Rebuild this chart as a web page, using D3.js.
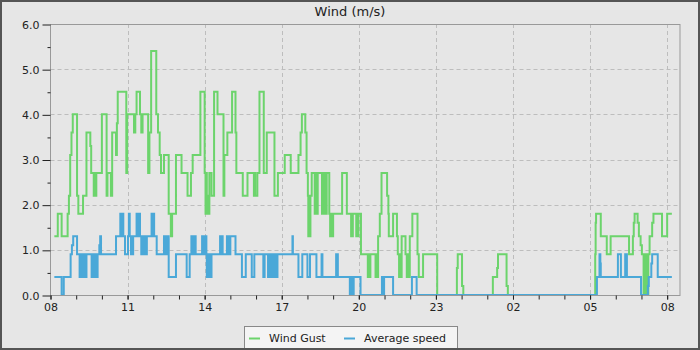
<!DOCTYPE html>
<html>
<head>
<meta charset="utf-8">
<script src="https://cdn.jsdelivr.net/npm/d3@7"></script>
<style>
  body { margin: 0; background: #e6e6e6; }
  svg { display: block; font-family: "DejaVu Sans", sans-serif; }
</style>
</head>
<body>
<div id="chart"></div>
<script>
// tick labels
let xTickLabels = ["08", "11", "14", "17", "20", "23", "02", "05", "08"];
let yTickLabels = ["0.0", "1.0", "2.0", "3.0", "4.0", "5.0", "6.0"];
let seriesNames = ["Wind Gust", "Average speed"];

// Wind Gust (m/s), value holds from each time until the next
let gustTimes = [
  "08:09", "08:17", "08:26", "08:40", "08:43", "08:46", "08:49", "08:52", "09:02", "09:05",
  "09:16", "09:24", "09:33", "09:35", "09:41", "09:43", "09:45", "09:47", "10:00", "10:11",
  "10:13", "10:21", "10:24", "10:33", "10:35", "10:37", "10:57", "10:59", "11:15", "11:18",
  "11:21", "11:29", "11:32", "11:35", "11:48", "11:51", "11:55", "12:07", "12:11", "12:15",
  "12:18", "12:25", "12:36", "12:41", "12:44", "12:53", "13:06", "13:20", "13:28", "13:32",
  "13:50", "14:00", "14:02", "14:04", "14:05", "14:07", "14:09", "14:11", "14:16", "14:22",
  "14:30", "14:44", "14:46", "14:53", "15:04", "15:12", "15:14", "15:29", "15:40", "15:55",
  "15:57", "15:58", "16:03", "16:08", "16:18", "16:25", "16:43", "16:51", "17:07", "17:21",
  "17:39", "17:44", "17:47", "17:55", "17:58", "18:01", "18:02", "18:04", "18:05", "18:07",
  "18:10", "18:17", "18:19", "18:21", "18:24", "18:34", "18:36", "18:38", "18:41", "18:43",
  "18:45", "18:51", "18:53", "18:55", "18:57", "19:00", "19:21", "19:32", "19:42", "19:46",
  "19:54", "19:56", "19:58", "19:59", "20:05", "20:21", "20:23", "20:25", "20:27", "20:39",
  "20:41", "20:43", "20:45", "20:49", "20:53", "21:06", "21:09", "21:10", "21:20", "21:29",
  "21:31", "21:34", "21:36", "21:38", "21:40", "21:49", "21:52", "21:54", "21:56", "21:59",
  "22:05", "22:17", "22:20", "22:30", "23:03", "23:49", "23:51", "00:01", "00:04", "01:13",
  "01:23", "01:25", "01:45", "01:48", "05:12", "05:13", "05:14", "05:25", "05:39", "05:48",
  "06:31", "06:40", "06:42", "06:44", "06:51", "06:54", "06:58", "07:01", "07:05", "07:07",
  "07:08", "07:10", "07:12", "07:16", "07:19", "07:25", "07:28", "07:48", "08:00", "08:11"
];
let gustValues = [
  1.3, 1.8, 1.3, 1.8, 2.2, 3.1, 3.6, 4.0, 2.2, 1.8,
  2.2, 3.6, 3.3, 2.7, 2.2, 2.7, 2.2, 2.7, 4.0, 2.2,
  2.7, 2.2, 3.6, 3.1, 3.8, 4.5, 2.7, 4.0, 3.6, 4.0,
  4.5, 4.0, 3.6, 4.0, 2.7, 3.6, 5.4, 4.0, 3.6, 3.1,
  2.7, 3.1, 1.8, 1.3, 1.8, 3.1, 2.7, 2.2, 2.7, 3.1,
  4.5, 2.7, 1.8, 2.7, 1.8, 2.2, 1.8, 2.7, 2.2, 4.5,
  4.0, 2.2, 3.1, 3.6, 4.5, 3.6, 2.7, 2.2, 2.7, 2.2,
  2.7, 2.2, 2.7, 4.5, 2.7, 3.6, 2.2, 2.7, 3.1, 2.7,
  3.1, 3.6, 4.0, 3.6, 2.7, 2.2, 1.3, 2.2, 1.3, 2.2,
  2.7, 1.8, 2.7, 1.8, 2.7, 1.8, 2.7, 1.8, 2.7, 1.8,
  2.7, 1.8, 1.3, 1.8, 1.3, 1.8, 2.7, 1.8, 1.3, 1.8,
  1.3, 1.8, 1.3, 1.8, 0.9, 0.4, 0.9, 0.4, 0.9, 0.4,
  0.9, 0.4, 1.3, 1.8, 2.7, 2.2, 1.8, 1.3, 1.8, 1.3,
  0.9, 0.4, 0.9, 0.4, 1.3, 0.9, 0.4, 0.9, 0.4, 1.3,
  1.8, 0.9, 0.4, 0.9, 0.0, 0.6, 0.9, 0.2, 0.0, 0.4,
  0.6, 0.9, 0.2, 0.0, 0.9, 1.6, 1.8, 1.3, 0.9, 1.3,
  0.9, 1.3, 1.6, 1.8, 1.6, 1.3, 1.1, 0.9, 0.0, 0.9,
  0.0, 0.9, 0.0, 0.9, 1.3, 1.6, 1.8, 1.3, 1.8, 1.8
];

// Average speed (m/s)
let speedTimes = [
  "08:09", "08:26", "08:31", "08:47", "08:50", "08:53", "09:02", "09:08", "09:10", "09:11",
  "09:13", "09:15", "09:17", "09:19", "09:21", "09:22", "09:24", "09:36", "09:38", "09:40",
  "09:42", "09:43", "09:45", "09:47", "09:50", "09:54", "09:56", "09:58", "10:33", "10:43",
  "10:44", "10:46", "10:47", "10:49", "10:50", "10:54", "11:01", "11:03", "11:05", "11:08",
  "11:10", "11:11", "11:13", "11:21", "11:23", "11:25", "11:29", "11:32", "11:34", "11:35",
  "11:37", "11:39", "11:41", "11:44", "11:45", "11:56", "11:58", "12:00", "12:02", "12:08",
  "12:25", "12:27", "12:29", "12:31", "12:33", "12:36", "12:53", "13:18", "13:25", "13:29",
  "13:31", "13:32", "13:35", "13:37", "13:39", "13:54", "13:56", "13:57", "14:00", "14:01",
  "14:04", "14:05", "14:07", "14:08", "14:10", "14:11", "14:13", "14:14", "14:16", "14:36",
  "14:38", "14:40", "14:42", "14:52", "14:54", "14:56", "14:58", "15:00", "15:12", "15:27",
  "15:36", "15:50", "15:56", "16:17", "16:20", "16:28", "16:30", "16:31", "16:33", "16:35",
  "16:37", "16:40", "16:42", "16:43", "16:46", "16:47", "16:50", "17:25", "17:26", "17:39",
  "17:48", "18:00", "18:06", "18:21", "18:33", "18:35", "19:07", "19:11", "19:39", "19:41",
  "19:42", "19:44", "19:46", "19:48", "20:04", "20:54", "20:56", "20:57", "20:58", "20:59",
  "21:20", "22:04", "22:15", "05:16", "05:22", "05:24", "05:25", "06:05", "06:12", "06:22",
  "06:26", "06:59", "07:15", "07:17", "07:23", "07:25", "07:38", "08:11"
];
let speedValues = [
  0.4, 0.0, 0.4, 0.9, 1.1, 1.3, 0.9, 0.4, 0.9, 0.4,
  0.9, 0.4, 0.9, 0.4, 0.9, 0.4, 0.9, 0.4, 0.9, 0.4,
  0.9, 0.4, 0.9, 0.4, 0.9, 1.1, 1.3, 0.9, 1.3, 1.8,
  1.3, 1.8, 1.3, 1.8, 1.3, 0.9, 1.3, 1.8, 1.3, 0.9,
  1.3, 0.9, 1.3, 1.8, 1.3, 1.8, 1.3, 0.9, 1.3, 0.9,
  1.3, 0.9, 1.3, 0.9, 1.3, 1.8, 1.3, 1.8, 1.3, 0.9,
  1.3, 0.9, 1.3, 0.9, 1.3, 0.4, 0.9, 0.4, 0.9, 1.3,
  0.9, 1.3, 0.9, 1.3, 0.9, 1.3, 0.9, 1.3, 0.9, 1.3,
  0.9, 0.4, 0.9, 0.4, 0.9, 0.4, 0.9, 0.4, 0.9, 1.3,
  0.9, 1.3, 0.9, 1.3, 0.9, 1.3, 0.9, 1.3, 0.9, 0.4,
  0.9, 0.4, 0.9, 0.4, 0.9, 0.4, 0.9, 0.4, 0.9, 0.4,
  0.9, 0.4, 0.9, 0.4, 0.9, 0.4, 0.9, 1.3, 0.9, 0.4,
  0.9, 0.4, 0.9, 0.4, 0.9, 0.4, 0.9, 0.4, 0.0, 0.4,
  0.0, 0.4, 0.0, 0.4, 0.0, 0.4, 0.0, 0.4, 0.0, 0.4,
  0.0, 0.4, 0.0, 0.4, 0.9, 0.7, 0.4, 0.9, 0.4, 0.9,
  0.4, 0.0, 0.2, 0.4, 0.7, 0.9, 0.4, 0.4
];

let width = 700;
let height = 350;
let margin = { top: 24, right: 20, bottom: 55, left: 50.5 };

let start = new Date(2024, 0, 1, 8, 0);
let end = new Date(2024, 0, 2, 8, 30);

// turn "HH:MM" strings into dates, rolling to the next day after midnight
function toDates(times) {
  let day = 1, prevHour = -1;
  return times.map(function (t) {
    let h = +t.slice(0, 2), m = +t.slice(3, 5);
    if (h < prevHour) day++;
    prevHour = h;
    return new Date(2024, 0, day, h, m);
  });
}

function makeSeries(times, values) {
  let dates = toDates(times);
  return dates.map(function (d, i) { return { date: d, value: values[i] }; });
}

let gust = makeSeries(gustTimes, gustValues);
let speed = makeSeries(speedTimes, speedValues);

let xScale = d3.scaleTime()
  .domain([start, end])
  .range([margin.left, width - margin.right]);

let yScale = d3.scaleLinear()
  .domain([0, 6])
  .range([height - margin.bottom - 0, margin.top]);

let majorX = d3.range(0, 25, 3).map(function (h) { return d3.timeHour.offset(start, h); });
let minorX = d3.range(0, 25).map(function (h) { return d3.timeHour.offset(start, h); });
let majorY = d3.range(0, 7);
let minorY = d3.range(0.5, 6, 1);

let svg = d3.select('#chart').append('svg')
  .attr('width', width)
  .attr('height', height);

svg.append('rect')
  .attr('width', width).attr('height', height)
  .attr('fill', '#e6e6e6');

let plotW = width - margin.right - margin.left;
let plotB = yScale(0);

// grid
let grid = svg.append('g')
  .attr('stroke', '#bdbdbd')
  .attr('stroke-dasharray', '4,3')
  .attr('stroke-width', 1);

grid.selectAll('line.h').data(majorY.slice(1, 6))
  .enter().append('line')
  .attr('x1', margin.left).attr('x2', width - margin.right)
  .attr('y1', function (d) { return Math.round(yScale(d)) + 0.5; })
  .attr('y2', function (d) { return Math.round(yScale(d)) + 0.5; });

grid.selectAll('line.v').data(majorX.slice(1))
  .enter().append('line')
  .attr('y1', margin.top).attr('y2', plotB)
  .attr('x1', function (d) { return Math.round(xScale(d)) + 0.5; })
  .attr('x2', function (d) { return Math.round(xScale(d)) + 0.5; });

// series
let line = d3.line()
  .curve(d3.curveStepAfter)
  .x(function (d) { return xScale(d.date); })
  .y(function (d) { return yScale(d.value); });

let colors = ['#6cd46c', '#4aa8d8'];

svg.append('path')
  .datum(gust)
  .attr('d', line)
  .attr('fill', 'none')
  .attr('stroke', colors[0])
  .attr('stroke-width', 2)
  .attr('stroke-linejoin', 'miter');

svg.append('path')
  .datum(speed)
  .attr('d', line)
  .attr('fill', 'none')
  .attr('stroke', colors[1])
  .attr('stroke-width', 2)
  .attr('stroke-linejoin', 'miter');

// plot frame
svg.append('rect')
  .attr('x', margin.left - 0.5 + 0.5)
  .attr('y', margin.top + 0.5)
  .attr('width', plotW)
  .attr('height', plotB - margin.top)
  .attr('fill', 'none')
  .attr('stroke', '#999');

// x axis
let xAxis = d3.axisBottom(xScale)
  .tickValues(majorX)
  .tickSize(4)
  .tickSizeOuter(0)
  .tickFormat(function (d, i) { return xTickLabels[i]; });

let xMinor = d3.axisBottom(xScale)
  .tickValues(minorX)
  .tickSize(4)
  .tickSizeOuter(0)
  .tickFormat('');

let gx = svg.append('g')
  .attr('transform', 'translate(0,' + (plotB + 0.5) + ')');
gx.call(xMinor);
let gx2 = svg.append('g')
  .attr('transform', 'translate(0,' + (plotB + 0.5) + ')');
gx2.call(xAxis);

// y axis
let yAxis = d3.axisLeft(yScale)
  .tickValues(majorY)
  .tickSize(8)
  .tickSizeOuter(0)
  .tickFormat(function (d, i) { return yTickLabels[i]; });

let yMinor = d3.axisLeft(yScale)
  .tickValues(minorY)
  .tickSize(3)
  .tickSizeOuter(0)
  .tickFormat('');

let gy = svg.append('g').attr('transform', 'translate(' + margin.left + ',0.5)');
gy.call(yAxis);
let gy2 = svg.append('g').attr('transform', 'translate(' + margin.left + ',0.5)');
gy2.call(yMinor);

[gx, gx2, gy, gy2].forEach(function (g) {
  g.select('.domain').remove();
  g.selectAll('line').attr('stroke', '#222');
  g.selectAll('text')
    .attr('fill', '#222')
    .style('font-family', '"DejaVu Sans", sans-serif')
    .style('font-size', '11px');
});
gx2.selectAll('text').attr('y', 8);
gy.selectAll('text').attr('x', -11);

// title
svg.append('text')
  .attr('x', width / 2)
  .attr('y', 16)
  .attr('text-anchor', 'middle')
  .attr('fill', '#222')
  .style('font-size', '13px')
  .text('Wind (m/s)');

// legend
let legend = svg.append('g');
legend.append('rect')
  .attr('x', 244.5).attr('y', 326.5)
  .attr('width', 213).attr('height', 22)
  .attr('fill', '#f4f4f4')
  .attr('stroke', '#888');

let legendX = [249, 344];
seriesNames.forEach(function (name, i) {
  legend.append('line')
    .attr('x1', legendX[i]).attr('x2', legendX[i] + 11)
    .attr('y1', 338.5).attr('y2', 338.5)
    .attr('stroke', colors[i])
    .attr('stroke-width', 2);
  legend.append('text')
    .attr('x', legendX[i] + 20)
    .attr('y', 341.5)
    .attr('fill', '#222')
    .style('font-size', '11px')
    .text(name);
});

// outer border
svg.append('rect')
  .attr('x', 1).attr('y', 1)
  .attr('width', width - 2).attr('height', height - 2)
  .attr('fill', 'none')
  .attr('stroke', '#555')
  .attr('stroke-width', 2);
</script>
</body>
</html>
